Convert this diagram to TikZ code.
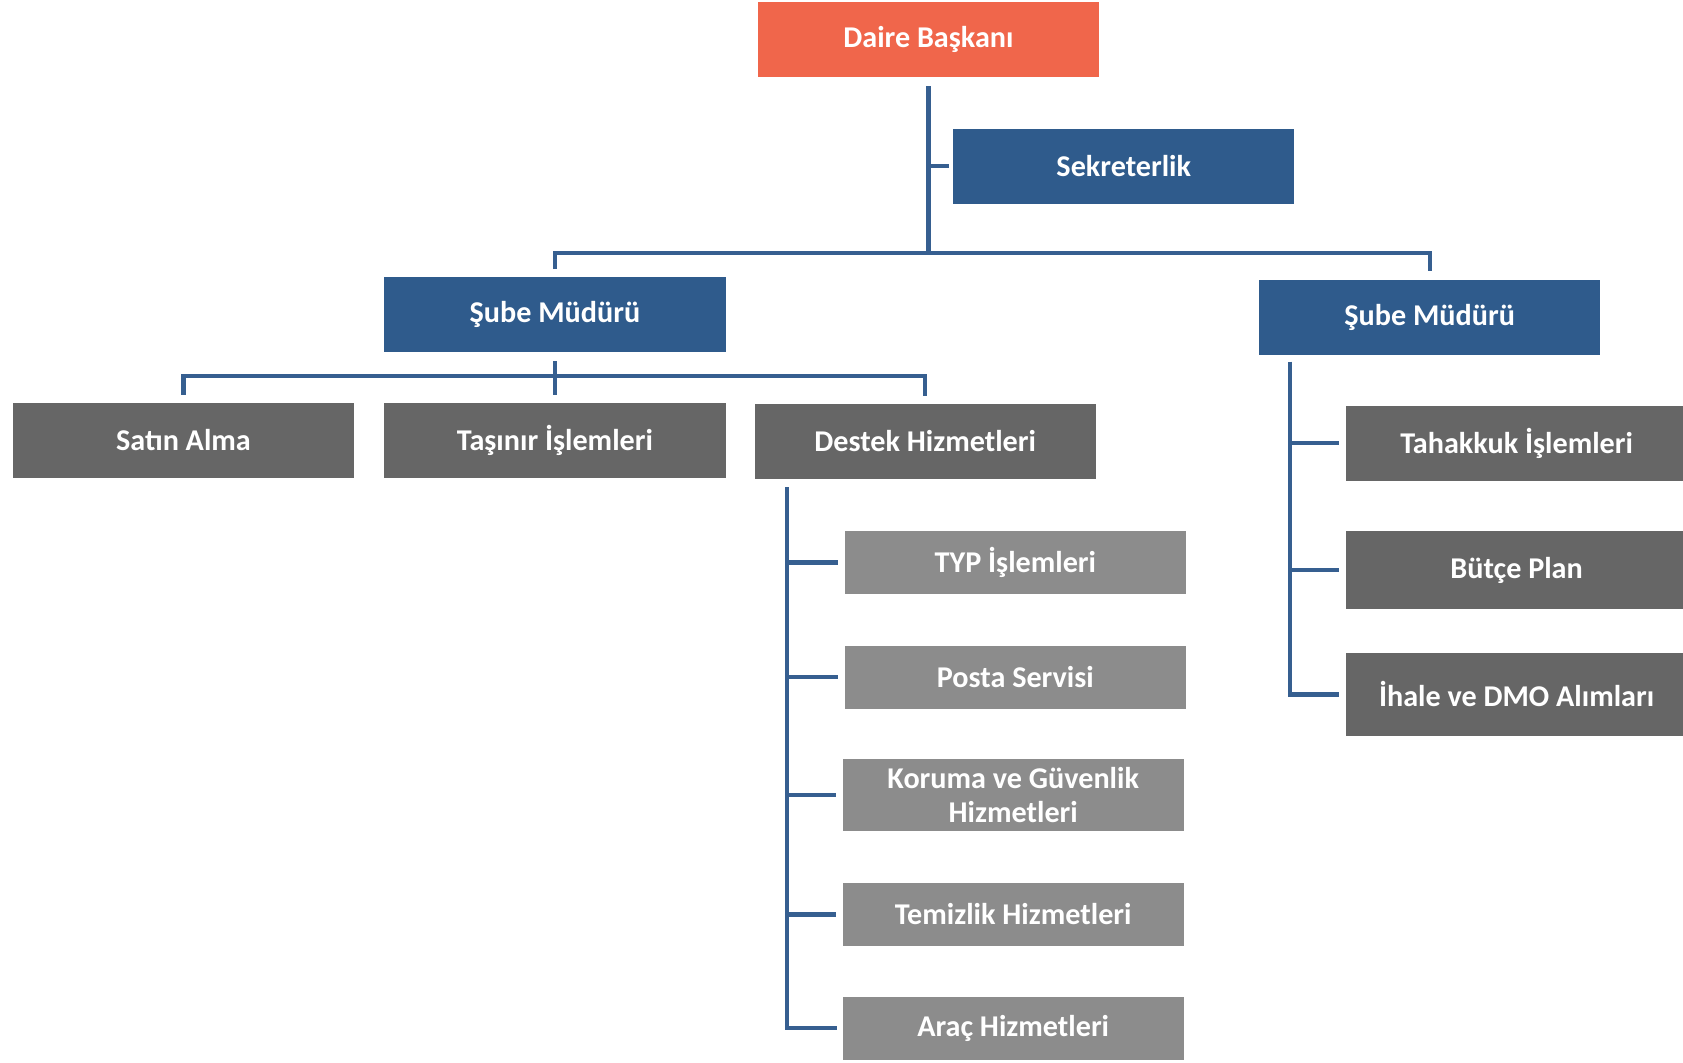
\documentclass[tikz,border=0pt]{standalone}
\usepackage{fontspec}
\setmainfont{Carlito}
\usepackage{tikz}

\definecolor{bossred}{HTML}{F0664B}
\definecolor{unitblue}{HTML}{2F5B8C}
\definecolor{darkgrey}{HTML}{666666}
\definecolor{lightgrey}{HTML}{8C8C8C}
\definecolor{linkblue}{HTML}{365F90}

\begin{document}
\begin{tikzpicture}[x=0.02cm,y=-0.02cm,
    box/.style={rectangle,minimum width=6.36cm,minimum height=1.4cm,inner sep=2pt,
        text=white,font=\fontsize{16}{18}\selectfont\bfseries,align=center},
    redbox/.style={box,fill=bossred},
    bluebox/.style={box,fill=unitblue},
    darkbox/.style={box,fill=darkgrey},
    lightbox/.style={box,fill=lightgrey,minimum height=1.18cm},
    link/.style={draw=linkblue,line width=2.2pt}]
                \path[use as bounding box,clip] (0,0) rectangle (1568,990);
                % top
                \node[redbox] (daire) at (865,37) {Daire Başkanı};
                \node[bluebox] (sekreter) at (1047,155) {Sekreterlik};
                \node[bluebox] (subeL) at (517,293) {Şube Müdürü};
                \node[bluebox] (subeR) at (1332,296) {Şube Müdürü};
                % left branch
                \node[darkbox] (satin) at (171,410) {Satın Alma};
                \node[darkbox] (tasinir) at (517,410) {Taşınır İşlemleri};
                \node[darkbox] (destek) at (862,411) {Destek Hizmetleri};
                \node[lightbox] (typ) at (946,524) {TYP İşlemleri};
                \node[lightbox] (posta) at (946,631) {Posta Servisi};
                \node[lightbox,minimum height=1.34cm] (koruma) at (944,741) {Koruma ve Güvenlik\\Hizmetleri};
                \node[lightbox] (temizlik) at (944,852) {Temizlik Hizmetleri};
                \node[lightbox] (arac) at (944,958) {Araç Hizmetleri};
                % right branch
                \node[darkbox] (tahakkuk) at (1413,413) {Tahakkuk İşlemleri};
                \node[darkbox,minimum height=1.44cm] (butce) at (1413,531) {Bütçe Plan};
                \node[darkbox,minimum height=1.56cm] (ihale) at (1413,647) {İhale ve DMO Alımları};
                % connectors
                \coordinate (hub) at (865,236);
                \coordinate (hubL) at (517,350);
                \coordinate (trunkD) at (733,454);
                \coordinate (trunkR) at (1202,337);
                \draw[link] ([yshift=-0.16cm]daire.south) -- (hub);
                \draw[link] (daire.south |- sekreter.west) -- ([xshift=-0.08cm]sekreter.west);
                \draw[link] ([yshift=0.14cm]subeL.north) |- (hub) -| ([yshift=0.16cm]subeR.north);
                \draw[link] ([yshift=-0.16cm]subeL.south) -- ([yshift=0.14cm]tasinir.north);
                \draw[link] ([yshift=0.14cm]satin.north) |- (hubL) -| ([yshift=0.14cm]destek.north);
                \draw[link] (trunkD) |- ([xshift=-0.1cm]arac.west);
                \foreach \n in {typ,posta,koruma,temizlik}
                    \draw[link] (trunkD |- \n.west) -- ([xshift=-0.12cm]\n.west);
                \draw[link] (trunkR) |- ([xshift=-0.12cm]ihale.west);
                \foreach \n in {tahakkuk,butce}
                    \draw[link] (trunkR |- \n.west) -- ([xshift=-0.12cm]\n.west);
            \end{tikzpicture}
\end{document}
